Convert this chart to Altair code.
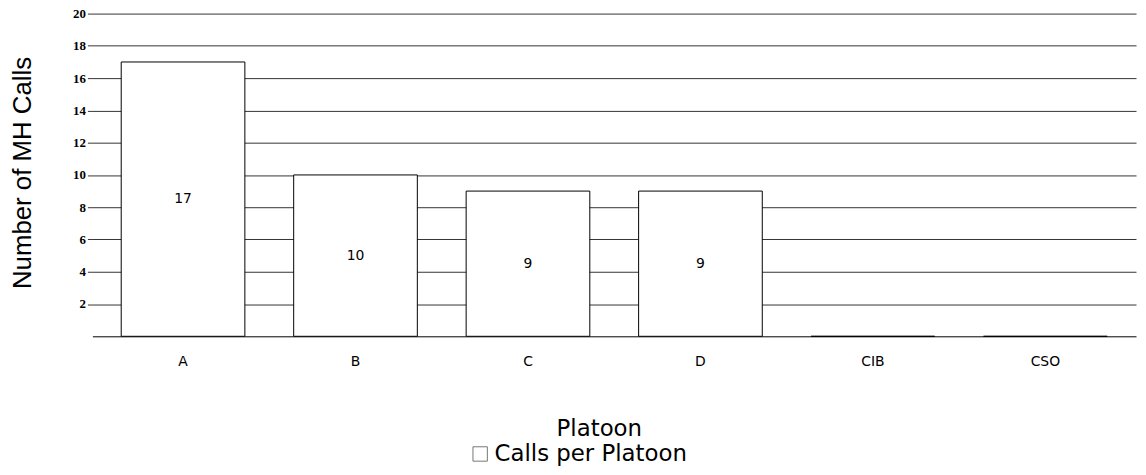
import altair as alt
import pandas as pd

platoons = ["A", "B", "C", "D", "CIB", "CSO"]
calls = [17, 10, 9, 9, 0, 0]
series_name = "Calls per Platoon"
y_ticks = [2, 4, 6, 8, 10, 12, 14, 16, 18, 20]

df = pd.DataFrame({"Platoon": platoons, "Calls": calls, "Series": [series_name] * len(platoons)})
df["mid"] = df["Calls"] / 2

x_axis = alt.Axis(
    title="Platoon",
    labelAngle=0,
    labelFont="DejaVu Sans",
    labelFontSize=14,
    labelColor="black",
    labelPadding=18,
    ticks=False,
    domainColor="black",
    domainWidth=1,
    titleFont="DejaVu Sans",
    titleFontSize=23,
    titleFontWeight="normal",
    titleColor="black",
    titleX=510,
    titleY=82,
)
x_scale = alt.Scale(paddingInner=0.283, paddingOuter=0.167)

y_axis = alt.Axis(
    title="Number of MH Calls",
    values=y_ticks,
    domain=False,
    labelOverlap=False,
    labelFlush=False,
    tickSize=5,
    tickColor="#333333",
    gridColor="#333333",
    gridWidth=1,
    gridOpacity=1,
    labelFont="Liberation Serif",
    labelFontSize=13,
    labelFontWeight="bold",
    labelColor="black",
    labelPadding=2,
    titleFont="Liberation Sans",
    titleFontSize=26,
    titleFontWeight="normal",
    titleColor="black",
    titleX=-57,
    titleY=160,
)
y_scale = alt.Scale(domain=[0, 20], nice=False)

bars = alt.Chart(df).mark_bar(stroke="black", strokeWidth=1).encode(
    x=alt.X("Platoon:N", sort=platoons, scale=x_scale, axis=x_axis),
    y=alt.Y("Calls:Q", scale=y_scale, axis=y_axis),
    fill=alt.Fill(
        "Series:N",
        scale=alt.Scale(range=["white"]),
        legend=alt.Legend(
            title=None,
            orient="none",
            legendX=379,
            legendY=432,
            symbolType="square",
            symbolSize=210,
            symbolStrokeColor="#777777",
            symbolStrokeWidth=1,
            symbolFillColor="white",
            labelFont="DejaVu Sans",
            labelFontSize=23,
            labelColor="black",
            labelOffset=3,
            labelLimit=0,
        ),
    ),
)

text = alt.Chart(df).transform_filter(alt.datum.Calls > 0).mark_text(
    font="DejaVu Sans", fontSize=14, color="black"
).encode(
    x=alt.X("Platoon:N", sort=platoons, scale=x_scale, axis=x_axis),
    y=alt.Y("mid:Q", scale=y_scale, axis=y_axis),
    text=alt.Text("Calls:Q"),
)

chart = (
    alt.layer(bars, text)
    .properties(
        width=1051,
        height=325,
        background="white",
        autosize=alt.AutoSizeParams(type="none"),
        padding={"left": 85, "top": 4, "right": 2, "bottom": 130},
    )
    .configure_view(strokeWidth=0, stroke="transparent")
)

chart.save("out.html", embed_options={"renderer": "svg", "actions": False})
